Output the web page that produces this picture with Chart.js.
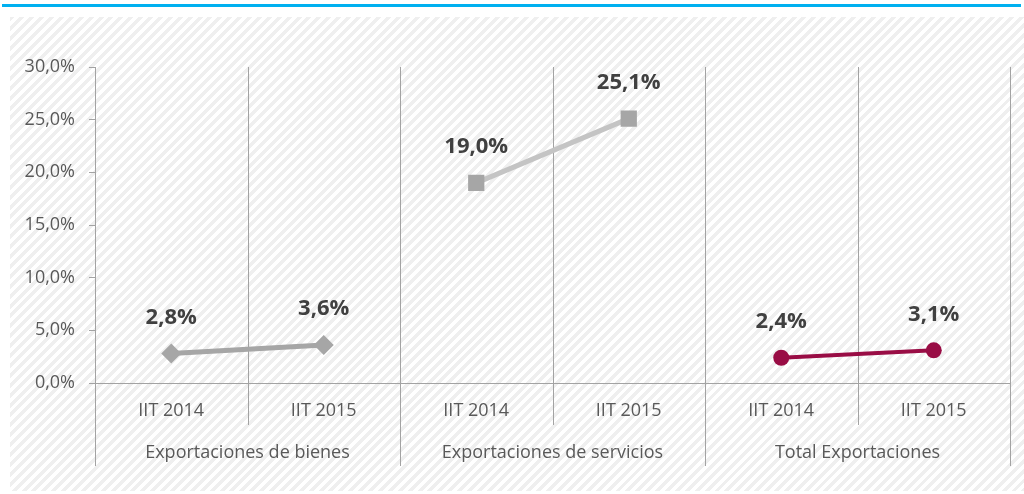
<!DOCTYPE html>
<html>
<head>
<meta charset="utf-8">
<script src="https://cdn.jsdelivr.net/npm/chart.js@4"></script>
<style>
  html, body { margin: 0; padding: 0; background: #fff; }
  #wrap { position: relative; width: 1024px; height: 494px; overflow: hidden; }
  #topbar { position: absolute; left: 2px; top: 4px; width: 1019px; height: 3px; background: #00b0f0; }
  #hatch {
    position: absolute; left: 10px; top: 17px; width: 1014px; height: 474px;
    background: repeating-linear-gradient(135deg, #efefef 0px, #efefef 3.5px, #ffffff 3.5px, #ffffff 7px);
  }
  #myChart { position: absolute; left: 0; top: 0; }
</style>
</head>
<body>
<div id="wrap">
  <div id="topbar"></div>
  <div id="hatch"></div>
  <canvas id="myChart" width="1024" height="494"></canvas>
</div>
<script>
// categories and groups
const categories = ["IIT 2014", "IIT 2015", "IIT 2014", "IIT 2015", "IIT 2014", "IIT 2015"];
const groups = ["Exportaciones de bienes", "Exportaciones de servicios", "Total Exportaciones"];

// series values (%)
const bienes = [2.8, 3.6, null, null, null, null];
const servicios = [null, null, 19.0, 25.1, null, null];
const total = [null, null, null, null, 2.4, 3.1];

// y axis
const yMin = 0;
const yMax = 30;
const yStep = 5;

const gridColor = "#a3a3a3";
const fmt = (v, d) => v.toFixed(d).replace(".", ",") + "%";

Chart.defaults.font.family = "'Open Sans', sans-serif";

// draws the vertical separators and the group labels under the axis
const groupLines = {
  id: "groupLines",
  beforeDatasetsDraw(chart) {
    const ctx = chart.ctx;
    const x = chart.scales.x;
    const top = chart.chartArea.top;
    const step = (x.right - x.left) / categories.length;
    ctx.save();
    ctx.strokeStyle = gridColor;
    ctx.lineWidth = 1;
    for (let i = 0; i <= categories.length; i++) {
      const px = Math.round(x.left + i * step) + 0.5;
      const bottom = i % 2 === 0 ? 466 : 425;
      ctx.beginPath();
      ctx.moveTo(px, top);
      ctx.lineTo(px, bottom);
      ctx.stroke();
    }
    ctx.fillStyle = "#595959";
    ctx.font = "18px 'Open Sans', sans-serif";
    ctx.textAlign = "center";
    ctx.textBaseline = "middle";
    groups.forEach(function (g, i) {
      const cx = x.left + (i * 2 + 1) * step;
      ctx.fillText(g, cx, 453);
    });
    ctx.restore();
  }
};

// value labels above the points
const valueLabels = {
  id: "valueLabels",
  afterDatasetsDraw(chart) {
    const ctx = chart.ctx;
    ctx.save();
    ctx.fillStyle = "#404040";
    ctx.font = "bold 22px 'Open Sans', sans-serif";
    ctx.textAlign = "center";
    ctx.textBaseline = "middle";
    chart.data.datasets.forEach(function (ds, di) {
      const meta = chart.getDatasetMeta(di);
      meta.data.forEach(function (pt, i) {
        const v = ds.data[i];
        if (v === null || v === undefined) return;
        ctx.fillText(fmt(v, 1), pt.x, pt.y - 36);
      });
    });
    ctx.restore();
  }
};

const ctx = document.getElementById("myChart").getContext("2d");
const myChart = new Chart(ctx, {
  type: "line",
  data: {
    labels: categories,
    datasets: [
      {
        label: "Exportaciones de bienes",
        data: bienes,
        borderColor: "#a6a6a6",
        backgroundColor: "#a6a6a6",
        borderWidth: 5,
        pointStyle: "rectRot",
        pointRadius: 10,
        pointHoverRadius: 10,
        pointBorderWidth: 0,
      },
      {
        label: "Exportaciones de servicios",
        data: servicios,
        borderColor: "#c4c4c4",
        backgroundColor: "#a6a6a6",
        borderWidth: 5,
        pointStyle: "rect",
        pointRadius: 11.5,
        pointHoverRadius: 11.5,
        pointBorderWidth: 0,
      },
      {
        label: "Total Exportaciones",
        data: total,
        borderColor: "#990d45",
        backgroundColor: "#990d45",
        borderWidth: 4,
        pointStyle: "circle",
        pointRadius: 8,
        pointHoverRadius: 8,
        pointBorderWidth: 0,
      },
    ],
  },
  options: {
    responsive: false,
    animation: false,
    events: [],
    layout: { padding: { top: 67, right: 14, left: 0, bottom: 0 } },
    plugins: {
      legend: { display: false },
      tooltip: { enabled: false },
    },
    scales: {
      x: {
        offset: true,
        grid: { display: false, drawTicks: false },
        border: { display: true, color: gridColor, width: 1 },
        ticks: {
          color: "#595959",
          font: { size: 18 },
          padding: 17,
          maxRotation: 0,
          autoSkip: false,
        },
        afterFit(scale) { scale.height = 111; },
      },
      y: {
        min: yMin,
        max: yMax,
        grid: {
          display: true,
          drawOnChartArea: false,
          drawTicks: true,
          tickLength: 6,
          color: gridColor,
        },
        border: { display: false },
        ticks: {
          stepSize: yStep,
          color: "#595959",
          font: { size: 18 },
          padding: 14,
          callback: function (v) { return fmt(v, 1); },
        },
        afterFit(scale) { scale.width = 95; },
      },
    },
  },
  plugins: [groupLines, valueLabels],
});
</script>
</body>
</html>
